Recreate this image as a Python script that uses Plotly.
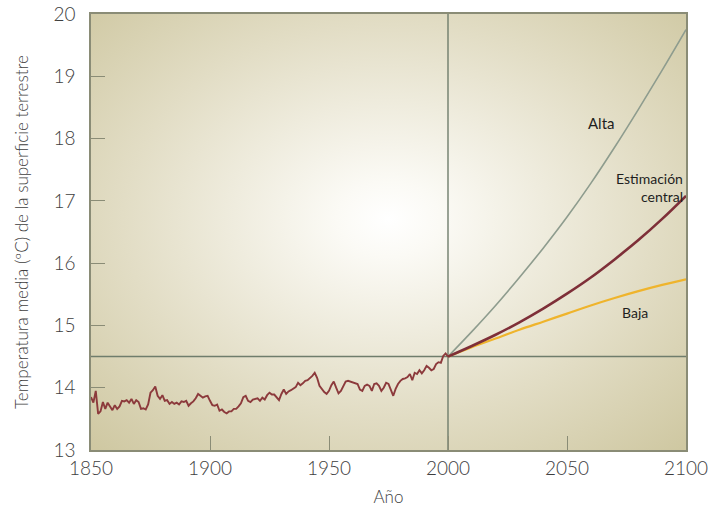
import base64
import plotly.graph_objects as go

# ---------------- data ----------------
hist_years = list(range(1850, 2001))
hist_temp = [
    13.85, 13.76, 13.95, 13.58, 13.62, 13.77, 13.66, 13.76, 13.70, 13.64,  # 1850-1859
    13.72, 13.66, 13.70, 13.79, 13.78, 13.80, 13.76, 13.82, 13.74, 13.80,  # 1860-1869
    13.77, 13.66, 13.67, 13.65, 13.73, 13.92, 13.96, 14.02, 13.87, 13.82,  # 1870-1879
    13.88, 13.79, 13.80, 13.74, 13.77, 13.74, 13.76, 13.73, 13.78, 13.77,  # 1880-1889
    13.79, 13.71, 13.75, 13.78, 13.83, 13.90, 13.87, 13.84, 13.86, 13.87,  # 1890-1899
    13.79, 13.72, 13.71, 13.73, 13.63, 13.65, 13.61, 13.59, 13.62, 13.62,  # 1900-1909
    13.66, 13.66, 13.70, 13.75, 13.85, 13.87, 13.79, 13.77, 13.81, 13.82,  # 1910-1919
    13.83, 13.79, 13.84, 13.81, 13.88, 13.92, 13.89, 13.89, 13.84, 13.80,  # 1920-1929
    13.90, 13.97, 13.90, 13.94, 13.96, 13.98, 14.01, 14.08, 14.04, 14.07,  # 1930-1939
    14.11, 14.12, 14.15, 14.19, 14.24, 14.16, 14.03, 13.97, 13.93, 13.90,  # 1940-1949
    13.95, 14.04, 14.10, 14.00, 13.91, 13.95, 14.03, 14.10, 14.11, 14.10,  # 1950-1959
    14.09, 14.08, 14.06, 13.97, 13.95, 14.03, 14.05, 14.03, 13.95, 14.06,  # 1960-1969
    14.07, 14.03, 13.95, 14.00, 14.08, 14.06, 13.95, 13.87, 13.98, 14.06,  # 1970-1979
    14.11, 14.14, 14.15, 14.17, 14.22, 14.12, 14.24, 14.22, 14.28, 14.23,  # 1980-1989
    14.28, 14.35, 14.32, 14.28, 14.30, 14.38, 14.41, 14.40, 14.51, 14.55,  # 1990-1999
    14.50,                                                                 # 2000
]

proj_years = [2000, 2010, 2020, 2030, 2040, 2050, 2060, 2070, 2080, 2090, 2100]
alta = [14.5, 14.90, 15.32, 15.77, 16.24, 16.74, 17.28, 17.86, 18.47, 19.10, 19.75]
central = [14.5, 14.67, 14.85, 15.05, 15.27, 15.51, 15.77, 16.06, 16.37, 16.71, 17.08]
baja = [14.5, 14.65, 14.79, 14.93, 15.06, 15.19, 15.32, 15.44, 15.55, 15.65, 15.74]

x_ticks = [1850, 1900, 1950, 2000, 2050, 2100]
y_ticks = [13, 14, 15, 16, 17, 18, 19, 20]

ref_year = 2000
ref_temp = 14.5

# ---------------- styles ----------------
FONT = "Lato"
TXT = "#3e3e3e"
FRAME = "#8a8c76"
REFLINE = "#6f7d6c"

fig = go.Figure()

fig.add_trace(go.Scatter(x=proj_years, y=alta, mode="lines",
                         line=dict(color="#8e9c8e", width=1.6, shape="spline"),
                         hoverinfo="skip", showlegend=False))
fig.add_trace(go.Scatter(x=proj_years, y=baja, mode="lines",
                         line=dict(color="#efb42c", width=2.2, shape="spline"),
                         hoverinfo="skip", showlegend=False))
fig.add_trace(go.Scatter(x=proj_years, y=central, mode="lines",
                         line=dict(color="#7e2f38", width=2.6, shape="spline"),
                         hoverinfo="skip", showlegend=False))
fig.add_trace(go.Scatter(x=hist_years, y=hist_temp, mode="lines",
                         line=dict(color="#8c3a3c", width=1.9),
                         hoverinfo="skip", showlegend=False))

# radial gradient background (style only)
svg = (
    '<svg xmlns="http://www.w3.org/2000/svg" width="600" height="440" '
    'preserveAspectRatio="none" viewBox="0 0 600 440">'
    '<defs><radialGradient id="g" cx="0.5" cy="0.47" r="0.72">'
    '<stop offset="0" stop-color="#ffffff"/>'
    '<stop offset="0.12" stop-color="#fbfaf5"/>'
    '<stop offset="0.62" stop-color="#e2ddc5"/>'
    '<stop offset="1" stop-color="#cfc8a2"/>'
    '</radialGradient></defs>'
    '<rect x="0" y="0" width="600" height="440" fill="url(#g)"/></svg>'
)
src = "data:image/svg+xml;base64," + base64.b64encode(svg.encode()).decode()
fig.add_layout_image(dict(source=src, xref="paper", yref="paper", x=0, y=1,
                          sizex=1, sizey=1, sizing="stretch", layer="below",
                          xanchor="left", yanchor="top"))

# reference lines at 2000 and 14.5
fig.add_shape(type="line", xref="x", yref="paper", x0=ref_year, x1=ref_year,
              y0=0, y1=1, line=dict(color=REFLINE, width=1.4), layer="below")
fig.add_shape(type="line", xref="paper", yref="y", x0=0, x1=1,
              y0=ref_temp, y1=ref_temp, line=dict(color=REFLINE, width=1.4), layer="below")

fig.add_annotation(x=2064.5, y=18.25, text="Alta", showarrow=False,
                   font=dict(family=FONT, size=15, color="#1e1e1e"),
                   xanchor="center", yanchor="middle")
fig.add_annotation(x=2099.5, y=17.22, text="Estimación<br>central", showarrow=False,
                   font=dict(family=FONT, size=14, color="#1e1e1e"),
                   xanchor="right", yanchor="middle", align="right")
fig.add_annotation(x=2078.6, y=15.20, text="Baja", showarrow=False,
                   font=dict(family=FONT, size=14, color="#1e1e1e"),
                   xanchor="center", yanchor="middle")

fig.update_xaxes(range=[1850, 2100], tickvals=x_ticks, automargin=False,
                 ticks="inside", ticklen=14, tickwidth=1.3, tickcolor=FRAME,
                 showline=True, mirror=True, linecolor=FRAME, linewidth=1.5,
                 showgrid=False, zeroline=False,
                 tickfont=dict(family=FONT, size=19, color=TXT, weight=300),
                 ticklabelstandoff=0,
                 title=dict(text="Año", font=dict(family=FONT, size=17, color=TXT, weight=300),
                            standoff=14))
fig.update_yaxes(range=[13, 20], tickvals=y_ticks, automargin=False,
                 ticks="inside", ticklen=14, tickwidth=1.3, tickcolor=FRAME,
                 showline=True, mirror=True, linecolor=FRAME, linewidth=1.5,
                 showgrid=False, zeroline=False,
                 tickfont=dict(family=FONT, size=19, color=TXT, weight=300),
                 ticklabelstandoff=10,
                 title=dict(text="Temperatura media (ºC) de la superficie terrestre",
                            font=dict(family=FONT, size=17, color=TXT, weight=300),
                            standoff=20))

fig.update_layout(width=714, height=528,
                  margin=dict(l=91, r=28, t=14, b=78),
                  paper_bgcolor="white", plot_bgcolor="rgba(0,0,0,0)",
                  showlegend=False)

fig.write_html("out.html", config={"displayModeBar": False},
               post_script="document.body.style.margin='0';document.body.style.overflow='hidden';")
